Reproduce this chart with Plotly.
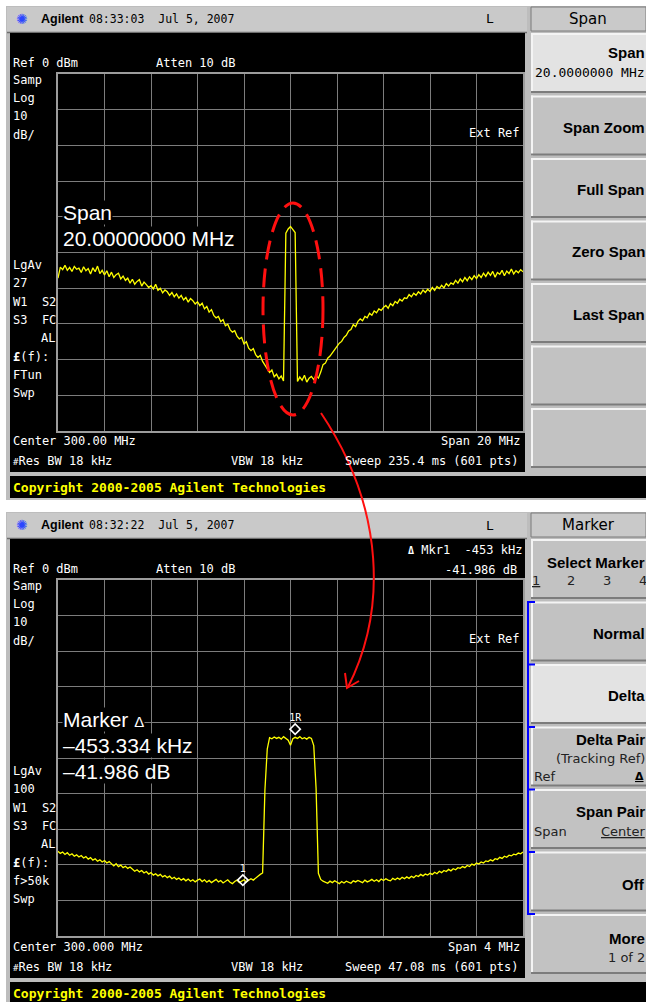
import numpy as np
import plotly.graph_objects as go

W, H = 646, 1002

# ---------------- data ----------------
TOP_CENTER_MHZ, TOP_SPAN_MHZ = 300.0, 20.0
BOT_CENTER_MHZ, BOT_SPAN_MHZ = 300.0, 4.0
REF_LEVEL_DBM, DB_PER_DIV, N_DIV = 0.0, 10.0, 10

# top screen: 20 MHz span trace (dBm), sampled every 0.1 MHz from 290 to 310 MHz
top_level_dbm = [
    -57.2, -54.1, -54.8, -53.6, -55.0, -54.2, -55.3, -53.9, -54.7, -54.4,
    -55.6, -54.0, -55.1, -54.5, -56.0, -54.3, -55.4, -53.8, -55.9, -55.0,
    -56.3, -55.1, -56.8, -55.5, -57.0, -56.2, -55.8, -57.4, -56.6, -57.8,
    -57.2, -58.6, -57.5, -58.9, -58.1, -57.6, -59.4, -58.3, -59.0, -59.8,
    -59.3, -60.2, -58.9, -60.6, -60.0, -61.3, -60.5, -61.0, -62.0, -61.2,
    -62.4, -61.6, -62.8, -62.0, -63.3, -62.6, -63.9, -62.9, -63.5, -64.4,
    -63.8, -64.9, -64.2, -65.8, -65.1, -66.7, -66.0, -67.6, -68.3, -67.9,
    -69.4, -68.8, -70.5, -70.1, -71.6, -72.3, -71.9, -73.4, -74.2, -73.8,
    -75.6, -75.0, -76.8, -77.5, -76.9, -78.6, -79.4, -78.8, -80.5, -81.6,
    -82.4, -83.6, -82.9, -84.8, -84.1, -85.4, -84.6, -86.0,
    -44.6, -43.4, -42.7, -43.5, -44.4,
    -86.1, -84.9, -85.8, -84.4, -86.3, -85.2, -84.7,
    -85.6, -84.5, -85.2, -83.5, -81.4, -81.0, -79.6, -79.0, -77.9, -77.2,
    -76.3, -75.4, -74.9, -73.8, -73.2, -72.0, -71.6, -70.2, -70.8, -69.3,
    -68.6, -69.1, -67.9, -68.3, -67.0, -67.6, -66.4, -66.9, -65.8, -66.2,
    -65.4, -64.8, -65.6, -64.3, -64.9, -63.7, -64.2, -63.1, -63.6, -62.7,
    -62.9, -61.8, -62.4, -61.4, -62.0, -61.0, -61.6, -60.5, -61.2, -60.3,
    -60.9, -59.8, -60.6, -59.5, -60.1, -59.2, -59.9, -58.7, -59.4, -58.5,
    -58.9, -57.8, -58.6, -57.4, -58.2, -57.0, -57.9, -56.8, -57.6, -56.5,
    -57.3, -56.2, -57.0, -55.8, -56.7, -55.5, -56.4, -55.3, -56.9, -55.6,
    -56.1, -55.0, -56.5, -55.2, -55.9, -54.6, -56.0, -55.1, -55.7, -54.8, -55.4,
]

# bottom screen: 4 MHz span trace (dBm), sampled every 0.02 MHz from 298 to 302 MHz
bottom_level_dbm = [
    -76.2, -76.8, -76.4, -77.1, -76.6, -77.3, -76.9, -77.6, -77.2, -77.8,
    -77.4, -78.1, -77.7, -78.4, -78.0, -78.7, -78.3, -79.0, -78.6, -79.2,
    -78.8, -79.5, -79.1, -79.8, -80.3, -79.7, -80.5, -80.1, -80.8, -80.4,
    -81.0, -80.6, -81.3, -81.8, -81.4, -82.0, -81.6, -82.3, -81.9, -82.6,
    -82.2, -82.9, -82.5, -83.1, -82.7, -83.4, -83.0, -83.6, -83.2, -83.9,
    -83.5, -84.1, -83.7, -84.3, -83.9, -84.5, -84.0, -84.6, -84.2, -84.8,
    -84.3, -84.0, -84.7, -84.2, -84.9, -84.4, -85.0, -84.5, -84.1, -84.8,
    -84.4, -85.1, -84.6, -84.2, -84.9, -85.3, -84.7, -84.3, -85.0, -84.6,
    -84.2, -84.8, -84.4, -83.9, -84.3, -83.6, -83.2, -82.7, -82.3,
    -59.0, -47.5,
    -44.3, -44.6, -44.1, -44.5, -44.2, -44.7, -44.0, -44.4, -45.0, -46.4,
    -44.6, -44.2, -44.5, -44.0, -44.6, -44.3, -44.7, -44.2, -44.5,
    -46.5, -58.5, -82.4, -84.1, -84.6,
    -84.8, -85.2, -84.6, -85.0, -84.5,
    -84.9, -85.3, -84.7, -85.1, -84.6, -84.9, -85.2, -84.5, -84.8, -84.4,
    -84.7, -85.0, -84.3, -84.8, -84.5, -84.1, -84.6, -84.2, -84.7, -84.0,
    -84.4, -83.9, -84.3, -84.5, -83.8, -84.2, -83.7, -84.1, -83.5, -83.9,
    -83.4, -83.8, -83.2, -83.6, -83.0, -83.3, -82.7, -83.1, -82.6, -82.9,
    -82.4, -82.7, -82.1, -82.5, -81.8, -82.2, -81.6, -81.9, -81.3, -81.7,
    -81.1, -81.4, -80.8, -81.0, -80.5, -80.8, -80.2, -80.5, -79.8, -80.1,
    -79.5, -79.8, -79.2, -79.5, -78.9, -79.1, -78.6, -78.9, -78.3, -78.5,
    -77.9, -78.2, -77.6, -77.9, -77.3, -77.5, -77.0, -77.2, -76.7, -76.9, -76.4,
]

marker_freq_mhz = [300.04, 299.59]
marker_level_dbm = [-41.9, -84.3]
marker_names = ["1R", "1"]

top_freq = np.linspace(TOP_CENTER_MHZ - TOP_SPAN_MHZ / 2, TOP_CENTER_MHZ + TOP_SPAN_MHZ / 2, len(top_level_dbm))
bot_freq = np.linspace(BOT_CENTER_MHZ - BOT_SPAN_MHZ / 2, BOT_CENTER_MHZ + BOT_SPAN_MHZ / 2, len(bottom_level_dbm))

# ---------------- helpers ----------------
def X(p):
    return p / W

def Y(p):
    return 1 - p / H

MONO = "DejaVu Sans Mono"
SANS = "Liberation Sans"
DJ = "DejaVu Sans"
NB = "\u00a0"

shapes = []
annos = []

def rect(x0, y0, x1, y1, fill, lc=None, lw=0, layer="below"):
    shapes.append(dict(type="rect", xref="paper", yref="paper", x0=X(x0), x1=X(x1),
                       y0=Y(y1), y1=Y(y0), fillcolor=fill,
                       line=dict(width=lw, color=lc or fill), layer=layer))

def seg(x0, y0, x1, y1, color, w=1, layer="below", dash=None):
    ln = dict(color=color, width=w)
    if dash:
        ln["dash"] = dash
    shapes.append(dict(type="line", xref="paper", yref="paper", x0=X(x0), x1=X(x1),
                       y0=Y(y0), y1=Y(y1), line=ln, layer=layer))

def T(x, y, text, size=12, color="white", family=MONO, xa="left", bg=None, ya="middle"):
    d = dict(x=X(x), y=Y(y), xref="paper", yref="paper", text=text, showarrow=False,
             xanchor=xa, yanchor=ya, borderpad=0,
             font=dict(family=family, size=size, color=color))
    if bg:
        d["bgcolor"] = bg
    annos.append(d)

FRAME = "#bdbdbd"
HEAD = "#c9c9c9"
KEY = "#c2c2c2"
KEY_HI = "#e3e3e3"
LIGHT = "#f4f4f4"
DARK = "#7c7c7c"


def panel(off, time_txt, title, hi):
    # frame and header
    rect(6, off + 6, 646, off + 500, FRAME)
    rect(7, off + 7, 527, off + 32, HEAD)
    seg(7, off + 32.5, 527, off + 32.5, "#6e6e6e", 1.5)
    # display
    rect(10, off + 33, 525, off + 472, "black")
    # copyright bar
    rect(10, off + 476, 646, off + 498, "black")
    # softkey title
    rect(531, off + 7, 646, off + 31, HEAD, "#7a7a7a", 1)
    T(588, off + 19, title, 15, "black", DJ, "center")
    # softkeys
    for k in range(7):
        t = off + 33 + 62.5 * k
        b = t + 60
        rect(531, t, 646, b, KEY_HI if k == hi else KEY)
        seg(531, t + 1, 646, t + 1, LIGHT, 2)
        seg(532, t, 532, b, LIGHT, 2)
        seg(531, b - 1, 646, b - 1, DARK, 2)
    # header texts
    T(22, off + 19, "✺", 14, "#2b46ff", DJ, "center")
    T(40, off + 19, "<b>Agilent</b>", 12.5, "black", SANS)
    T(88, off + 19, time_txt, 11.5, "black", MONO)
    T(490, off + 19, "L", 13, "black", MONO, "center")
    # copyright
    T(12, off + 487, "<b>Copyright 2000-2005 Agilent Technologies</b>", 13, "#ffff00", MONO)


# ---------------- panels ----------------
panel(0, "08:33:03" + NB * 2 + "Jul 5, 2007", "Span", 0)
panel(506, "08:32:22" + NB * 2 + "Jul 5, 2007", "Marker", 2)

# red annotation (ellipse + arrow)
shapes.append(dict(type="circle", xref="paper", yref="paper", x0=X(263), x1=X(323),
                   y0=Y(415), y1=Y(203), line=dict(color="#ff1010", width=3, dash="19px,9px"),
                   layer="above"))
shapes.append(dict(type="path", xref="paper", yref="paper",
                   path=f"M{X(321)},{Y(413)} C{X(386)},{Y(510)} {X(386)},{Y(612)} {X(348)},{Y(687)}",
                   line=dict(color="#ff1010", width=2), layer="above"))
shapes.append(dict(type="path", xref="paper", yref="paper",
                   path=f"M{X(345)},{Y(673)} L{X(347)},{Y(688)} L{X(359)},{Y(681)}",
                   line=dict(color="#ff1010", width=2), layer="above"))

# blue bracket in bottom softkeys
seg(528, 602, 528, 914, "#0000ff", 2)
for yb in [602, 664.5, 727, 789.5, 852, 914]:
    seg(527, yb, 535, yb, "#0000ff", 2)

# ---------------- display texts ----------------
for off, center_txt, span_txt, sweep_txt, lg_n, sweep_mode in [
    (0, "Center 300.00 MHz", "Span 20 MHz", "Sweep 235.4 ms (601 pts)", "27", "FTun"),
    (506, "Center 300.000 MHz", "Span 4 MHz", "Sweep 47.08 ms (601 pts)", "100", "f>50k"),
]:
    T(12, off + 63, "Ref 0 dBm")
    T(155, off + 63, "Atten 10 dB")
    for i, s in enumerate(["Samp", "Log", "10", "dB/"]):
        T(12, off + 80 + 18.2 * i, s)
    left2 = ["LgAv", lg_n, "W1" + NB * 2 + "S2", "S3" + NB * 2 + "FC", None, "<b>£</b>(f):", sweep_mode, "Swp"]
    for i, s in enumerate(left2):
        if s is None:
            T(56, off + 265 + 18.3 * i, "AL", xa="right")
        else:
            T(12, off + 265 + 18.3 * i, s)
    T(521, off + 133, "Ext Ref", xa="right")
    T(12, off + 441, center_txt.replace(" ", NB))
    T(12, off + 461, "<span style='font-size:9px'>#</span>Res BW 18 kHz")
    T(230, off + 461, "VBW 18 kHz")
    T(521, off + 441, span_txt, xa="right")
    T(519, off + 461, sweep_txt, xa="right")

# big overlay texts
T(62, 213, "Span", 21, "white", SANS, bg="black")
T(62, 238, "20.00000000 MHz", 21, "white", SANS, bg="black")
T(62, 719, "Marker <span style='font-size:15px'>Δ</span>", 21, "white", SANS, bg="black")
T(62, 745, "–453.334 kHz", 21, "white", SANS, bg="black")
T(62, 771, "–41.986 dB", 21, "white", SANS, bg="black")

# marker readout
T(523, 550, "<b><span style='font-size:10px'>Δ</span></b> Mkr1" + NB * 2 + "-453 kHz", 12, xa="right")
T(518, 570, "-41.986 dB", 12, xa="right")

# ---------------- softkey labels ----------------
KB = 15
def key(y, text, size=KB):
    T(646, y, "<b>" + text + "</b>", size, "black", SANS, "right")

# top
key(53, "Span")
T(646, 72, "20.0000000 MHz", 13, "black", MONO, "right")
for k, s in enumerate(["Span Zoom", "Full Span", "Zero Span", "Last Span"]):
    key(127 + 62.4 * k, s)

# bottom
key(562, "Select Marker")
for xs, s in zip([536, 571, 607, 643], ["<u>1</u>", "2", "3", "4"]):
    T(xs, 580, s, 13, "#222222", DJ, "center")
key(633, "Normal")
key(695, "Delta")
key(739, "Delta Pair")
T(646, 758, "(Tracking Ref)", 13, "#222222", DJ, "right")
T(533, 776, "Ref", 13, "#222222", DJ)
T(645, 776, "<u><b>Δ</b></u>", 11, "black", DJ, "right")
key(811, "Span Pair")
T(533, 831, "Span", 13, "#222222", DJ)
T(646, 831, "<u>Center</u>", 13, "#222222", DJ, "right")
key(884, "Off")
key(938, "More")
T(646, 957, "1 of 2", 13, "#222222", DJ, "right")

# ---------------- figure ----------------
fig = go.Figure()
fig.add_trace(go.Scatter(x=top_freq, y=top_level_dbm, mode="lines",
                         line=dict(color="#ffff00", width=1.3), xaxis="x", yaxis="y",
                         hoverinfo="skip", showlegend=False))
fig.add_trace(go.Scatter(x=bot_freq, y=bottom_level_dbm, mode="lines",
                         line=dict(color="#ffff00", width=1.3), xaxis="x2", yaxis="y2",
                         hoverinfo="skip", showlegend=False))
fig.add_trace(go.Scatter(x=marker_freq_mhz, y=marker_level_dbm, mode="markers+text",
                         text=marker_names, textposition="top center",
                         textfont=dict(family=MONO, size=10, color="white"),
                         marker=dict(symbol="diamond-open", size=8, color="white",
                                     line=dict(color="white", width=1.6)),
                         xaxis="x2", yaxis="y2", hoverinfo="skip", showlegend=False,
                         cliponaxis=False))

ax = dict(showticklabels=False, ticks="", showgrid=True, gridcolor="#7c7c7c", gridwidth=1,
          zeroline=False, showline=True, mirror=True, linecolor="#9c9c9c", linewidth=2,
          fixedrange=True)
xdom = [X(58), X(523)]
fig.update_layout(
    width=W, height=H, autosize=False,
    margin=dict(l=0, r=0, t=0, b=0, pad=0),
    paper_bgcolor="white", plot_bgcolor="black", showlegend=False,
    xaxis=dict(ax, domain=xdom, range=[TOP_CENTER_MHZ - TOP_SPAN_MHZ / 2, TOP_CENTER_MHZ + TOP_SPAN_MHZ / 2],
               tick0=TOP_CENTER_MHZ - TOP_SPAN_MHZ / 2, dtick=TOP_SPAN_MHZ / N_DIV, anchor="y"),
    yaxis=dict(ax, domain=[Y(431), Y(74)], range=[REF_LEVEL_DBM - DB_PER_DIV * N_DIV, REF_LEVEL_DBM],
               tick0=REF_LEVEL_DBM, dtick=DB_PER_DIV, anchor="x"),
    xaxis2=dict(ax, domain=xdom, range=[BOT_CENTER_MHZ - BOT_SPAN_MHZ / 2, BOT_CENTER_MHZ + BOT_SPAN_MHZ / 2],
                tick0=BOT_CENTER_MHZ - BOT_SPAN_MHZ / 2, dtick=BOT_SPAN_MHZ / N_DIV, anchor="y2"),
    yaxis2=dict(ax, domain=[Y(936), Y(580)], range=[REF_LEVEL_DBM - DB_PER_DIV * N_DIV, REF_LEVEL_DBM],
                tick0=REF_LEVEL_DBM, dtick=DB_PER_DIV, anchor="x2"),
    shapes=shapes,
    annotations=annos,
)
fig.write_html("out.html", config={"displayModeBar": False})
